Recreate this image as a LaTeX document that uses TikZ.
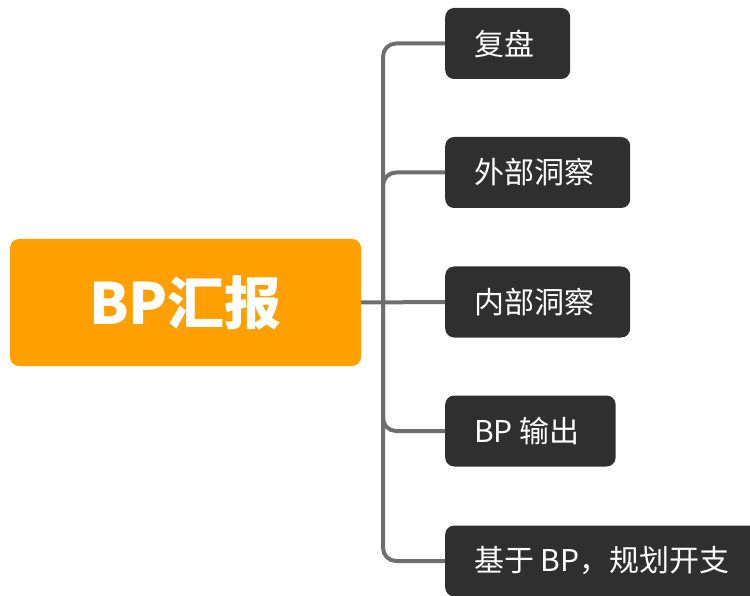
\documentclass[tikz,border=0pt]{standalone}
\usepackage{fontspec}
\setmainfont{Noto Sans CJK SC}
\newfontfamily\cjk{Noto Sans CJK SC}
\definecolor{rootorange}{HTML}{FFA000}
\definecolor{leafdark}{HTML}{2F2F2F}
\definecolor{linegray}{HTML}{6E6E6E}
\newcommand{\leaftext}[1]{\hspace*{29pt}#1\hspace*{36pt}}
\begin{document}
\begin{tikzpicture}[x=1pt,y=-1pt,
  rootbox/.style={fill=rootorange, rounded corners=9pt, minimum width=351pt, minimum height=127pt, text=white, font=\cjk\bfseries\fontsize{57}{62}\selectfont, inner sep=0pt},
  leafbox/.style={fill=leafdark, rounded corners=9pt, minimum height=71pt, inner xsep=0pt, text=white, font=\cjk\fontsize{30}{34}\selectfont, anchor=west},
  conn/.style={draw=linegray, line width=4pt, rounded corners=13pt}
]
\useasboundingbox (0,0) rectangle (750,596);
\node[rootbox] (root) at (185.5,302.5) {BP汇报};
\node[leafbox] (c1) at (445,43.5) {\leaftext{复盘}};
\node[leafbox] (c2) at (445,172.5) {\leaftext{外部洞察}};
\node[leafbox] (c3) at (445,302) {\leaftext{内部洞察}};
\node[leafbox] (c4) at (445,431) {\leaftext{BP 输出}};
\node[leafbox] (c5) at (445,561) {\leaftext{基于 BP，规划开支}};
\coordinate (j) at (383,302);
\draw[conn] (root.east) -- (c3.west);
\draw[conn] (j) |- (c1.west);
\draw[conn] (j) |- (c2.west);
\draw[conn] (j) |- (c4.west);
\draw[conn] (j) |- (c5.west);
\end{tikzpicture}
\end{document}
